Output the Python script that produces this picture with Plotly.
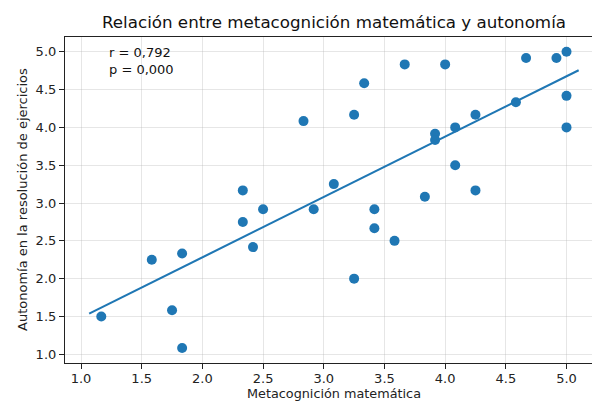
import numpy as np
import plotly.graph_objects as go

metacognicion = [1.167, 1.583, 1.75, 1.833, 1.833, 2.333, 2.333, 2.417, 2.5, 2.833, 2.917,
                 3.083, 3.25, 3.25, 3.333, 3.417, 3.417, 3.583, 3.667, 3.833, 3.917, 3.917,
                 4.0, 4.083, 4.083, 4.25, 4.25, 4.583, 4.667, 4.917, 5.0, 5.0, 5.0]
autonomia = [1.5, 2.25, 1.583, 2.333, 1.083, 3.167, 2.75, 2.417, 2.917, 4.083, 2.917,
             3.25, 4.167, 2.0, 4.583, 2.917, 2.667, 2.5, 4.833, 3.083, 3.917, 3.833,
             4.833, 4.0, 3.5, 4.167, 3.167, 4.333, 4.917, 4.917, 5.0, 4.417, 4.0]
x_ticks = [1.0, 1.5, 2.0, 2.5, 3.0, 3.5, 4.0, 4.5, 5.0]
y_ticks = [1.0, 1.5, 2.0, 2.5, 3.0, 3.5, 4.0, 4.5, 5.0]
stats_text = "r = 0,792<br>p = 0,000"

x = np.array(metacognicion)
y = np.array(autonomia)
slope, intercept = np.polyfit(x, y, 1)
xl = np.linspace(x.min() - 0.1, x.max() + 0.1, 100)
yl = slope * xl + intercept

FONT = "DejaVu Sans"
blue = "#1f77b4"

fig = go.Figure()
fig.add_trace(go.Scatter(x=x, y=y, mode="markers",
                         marker=dict(color=blue, size=10, line=dict(width=0)),
                         showlegend=False))
fig.add_trace(go.Scatter(x=xl, y=yl, mode="lines",
                         line=dict(color=blue, width=2.1), showlegend=False))

fig.update_layout(
    width=592, height=403,
    margin=dict(l=65, r=0, t=37, b=40, autoexpand=False),
    plot_bgcolor="white", paper_bgcolor="white",
    font=dict(family=FONT, size=13, color="#222"),
    title=dict(text="Relación entre metacognición matemática y autonomía",
               x=334 / 592, xanchor="center", xref="container",
               y=1 - 22 / 403, yanchor="middle", yref="container",
               font=dict(family=FONT, size=16.7, color="#111")),
    xaxis=dict(range=[0.868, 5.21], tickvals=x_ticks,
               ticktext=[f"{v:.1f}" for v in x_ticks], automargin=False,
               showgrid=True, gridcolor="rgba(176,176,176,0.32)", gridwidth=1,
               zeroline=False, showline=True, linecolor="#222", linewidth=1.2,
               mirror=True, ticks="outside", ticklen=5, tickcolor="#222",
               ticklabelstandoff=-2,
               tickfont=dict(size=13, color="#222")),
    yaxis=dict(range=[0.885, 5.195], tickvals=y_ticks,
               ticktext=[f"{v:.1f}" for v in y_ticks], automargin=False,
               showgrid=True, gridcolor="rgba(176,176,176,0.32)", gridwidth=1,
               zeroline=False, showline=True, linecolor="#222", linewidth=1.2,
               mirror=False, ticks="outside", ticklen=5, tickcolor="#222",
               tickfont=dict(size=13, color="#222")),
    annotations=[
        dict(text=stats_text, xref="paper", yref="paper", x=(107 - 65) / 527,
             y=1 - (43 - 37) / 326, xanchor="left", yanchor="top", showarrow=False,
             align="left", font=dict(family=FONT, size=13, color="#111")),
        dict(text="Metacognición matemática", xref="paper", yref="paper",
             x=(334 - 65) / 527, y=-(403 - 363) / 326, xanchor="center", yanchor="bottom",
             showarrow=False, font=dict(family=FONT, size=12.8, color="#222")),
        dict(text="Autonomía en la resolución de ejercicios", xref="paper", yref="paper",
             x=-(65 - 22) / 527, y=0.5, xanchor="center", yanchor="middle", textangle=-90,
             showarrow=False, font=dict(family=FONT, size=13, color="#222")),
    ],
)

fig.write_html("out.html",
               config={"displayModeBar": False},
               post_script="document.body.style.margin='0';document.body.style.padding='0';"
                           "document.body.style.overflow='hidden';")
